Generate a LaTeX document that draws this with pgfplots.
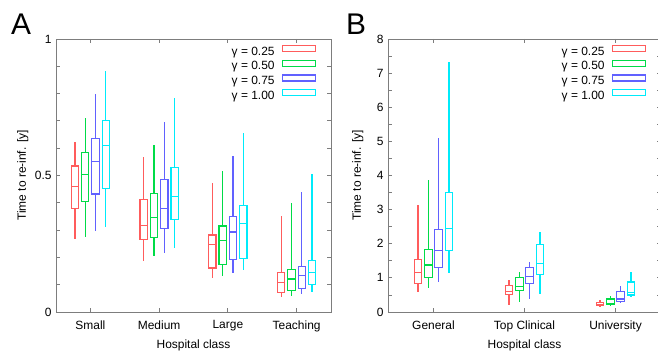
\documentclass[border=0pt]{standalone}
\usepackage{fontspec}
\setmainfont{Liberation Sans}
\usepackage{pgfplots}
\pgfplotsset{compat=1.18}
\usepgfplotslibrary{statistics}
\definecolor{cred}{rgb}{1,0.36,0.36}
\definecolor{cgreen}{rgb}{0,0.86,0.28}
\definecolor{cblue}{rgb}{0.38,0.38,1}
\definecolor{ccyan}{rgb}{0,0.92,0.98}
\definecolor{axgray}{rgb}{0.49,0.49,0.49}
% \bx{colour}{position}{lower whisker}{lower quartile}{median}{upper quartile}{upper whisker}
\newcommand{\bx}[7]{\addplot[forget plot, color=#1, line width=1.2bp, mark=none,
  boxplot prepared={draw direction=y, draw position=#2, lower whisker=#3, lower quartile=#4,
  median=#5, upper quartile=#6, upper whisker=#7}] coordinates {};}
\newcommand{\legbox}[2]{\addlegendimage{legend image code/.code={\draw[color=#1, line width=1.2bp] (0bp,1.3bp) rectangle (33bp,7.3bp);}}\addlegendentry{#2}}
\pgfplotsset{common/.style={
  scale only axis, height=273bp,
  axis line style={axgray, line width=0.9bp},
  every tick/.style={axgray, line width=0.8bp},
  tick align=inside, major tick length=4bp, minor tick length=4bp,
  font=\fontsize{12}{14}\selectfont,
  /pgf/number format/assume math mode=true,
  xticklabel style={yshift=-5bp},
  yticklabel style={xshift=-1bp},
  xlabel={Hospital class},
  xlabel style={at={(axis description cs:0.5,0)}, anchor=north, yshift=-24bp},
  ylabel={Time to re-inf. [y]},
  legend plot pos=right, legend cell align=right,
  legend style={draw=none, fill=none, inner sep=0pt, at={(rel axis cs:1,1)},
    anchor=north east, xshift=-15bp, yshift=-6bp, column sep=7bp,
    nodes={inner sep=0pt, text height=9bp, text depth=4.4bp}},
  boxplot/whisker extend=0,
}}
\begin{document}
\begin{tikzpicture}
\useasboundingbox (0,0) rectangle (658bp,352bp);
\node[anchor=base west, inner sep=0pt, font=\fontsize{30}{32}\selectfont] at (11bp,317bp) {A};
\node[anchor=base west, inner sep=0pt, font=\fontsize{30}{32}\selectfont] at (346bp,317bp) {B};
\begin{axis}[common, at={(56bp,40bp)}, anchor=south west, width=275bp,
  xmin=0.5, xmax=4.5, ymin=0, ymax=1,
  xtick={1,2,3,4}, xticklabels={Small,Medium,Large,Teaching},
  ytick={0,0.5,1}, minor ytick={0.1,0.2,0.3,0.4,0.6,0.7,0.8,0.9},
  ylabel style={at={(axis description cs:-0.0873,0.5)}, anchor=south},
  boxplot/box extend=0.106]
\legbox{cred}{γ = 0.25}
\legbox{cgreen}{γ = 0.50}
\legbox{cblue}{γ = 0.75}
\legbox{ccyan}{γ = 1.00}
% Small
\bx{cred}{0.775}{0.267}{0.380}{0.460}{0.535}{0.622}
\bx{cgreen}{0.925}{0.274}{0.406}{0.504}{0.584}{0.712}
\bx{cblue}{1.075}{0.295}{0.432}{0.552}{0.635}{0.799}
\bx{ccyan}{1.225}{0.310}{0.451}{0.611}{0.701}{0.884}
% Medium
\bx{cred}{1.775}{0.185}{0.265}{0.318}{0.413}{0.567}
\bx{cgreen}{1.925}{0.204}{0.274}{0.346}{0.434}{0.611}
\bx{cblue}{2.075}{0.216}{0.306}{0.380}{0.484}{0.695}
\bx{ccyan}{2.225}{0.233}{0.338}{0.423}{0.529}{0.783}
% Large
\bx{cred}{2.775}{0.123}{0.161}{0.246}{0.282}{0.474}
\bx{cgreen}{2.925}{0.133}{0.173}{0.261}{0.315}{0.515}
\bx{cblue}{3.075}{0.143}{0.191}{0.293}{0.349}{0.573}
\bx{ccyan}{3.225}{0.155}{0.195}{0.323}{0.391}{0.655}
% Teaching
\bx{cred}{3.775}{0.055}{0.072}{0.109}{0.145}{0.352}
\bx{cgreen}{3.925}{0.060}{0.078}{0.121}{0.157}{0.401}
\bx{cblue}{4.075}{0.066}{0.087}{0.133}{0.167}{0.441}
\bx{ccyan}{4.225}{0.072}{0.100}{0.145}{0.188}{0.507}
\end{axis}
\begin{axis}[common, at={(388bp,40bp)}, anchor=south west, width=273bp,
  xmin=0.5, xmax=3.5, ymin=0, ymax=8,
  xtick={1,2,3}, xticklabels={General,Top Clinical,University},
  ytick={0,1,...,8}, minor y tick num=1,
  ylabel style={at={(axis description cs:-0.077,0.5)}, anchor=south},
  boxplot/box extend=0.084]
\legbox{cred}{γ = 0.25}
\legbox{cgreen}{γ = 0.50}
\legbox{cblue}{γ = 0.75}
\legbox{ccyan}{γ = 1.00}
% General
\bx{cred}{0.830}{0.58}{0.83}{1.16}{1.55}{3.14}
\bx{cgreen}{0.943}{0.69}{1.01}{1.38}{1.84}{3.86}
\bx{cblue}{1.057}{0.88}{1.31}{1.81}{2.42}{5.11}
\bx{ccyan}{1.170}{1.14}{1.80}{2.44}{3.51}{7.33}
% Top Clinical
\bx{cred}{1.830}{0.21}{0.51}{0.60}{0.78}{0.95}
\bx{cgreen}{1.943}{0.28}{0.64}{0.75}{1.01}{1.16}
\bx{cblue}{2.057}{0.38}{0.83}{1.04}{1.31}{1.47}
\bx{ccyan}{2.170}{0.53}{1.11}{1.42}{1.98}{2.33}
% University
\bx{cred}{2.830}{0.17}{0.19}{0.22}{0.29}{0.34}
\bx{cgreen}{2.943}{0.19}{0.21}{0.26}{0.38}{0.47}
\bx{cblue}{3.057}{0.26}{0.30}{0.38}{0.60}{0.75}
\bx{ccyan}{3.170}{0.43}{0.50}{0.56}{0.88}{1.16}
\end{axis}
\end{tikzpicture}
\end{document}
